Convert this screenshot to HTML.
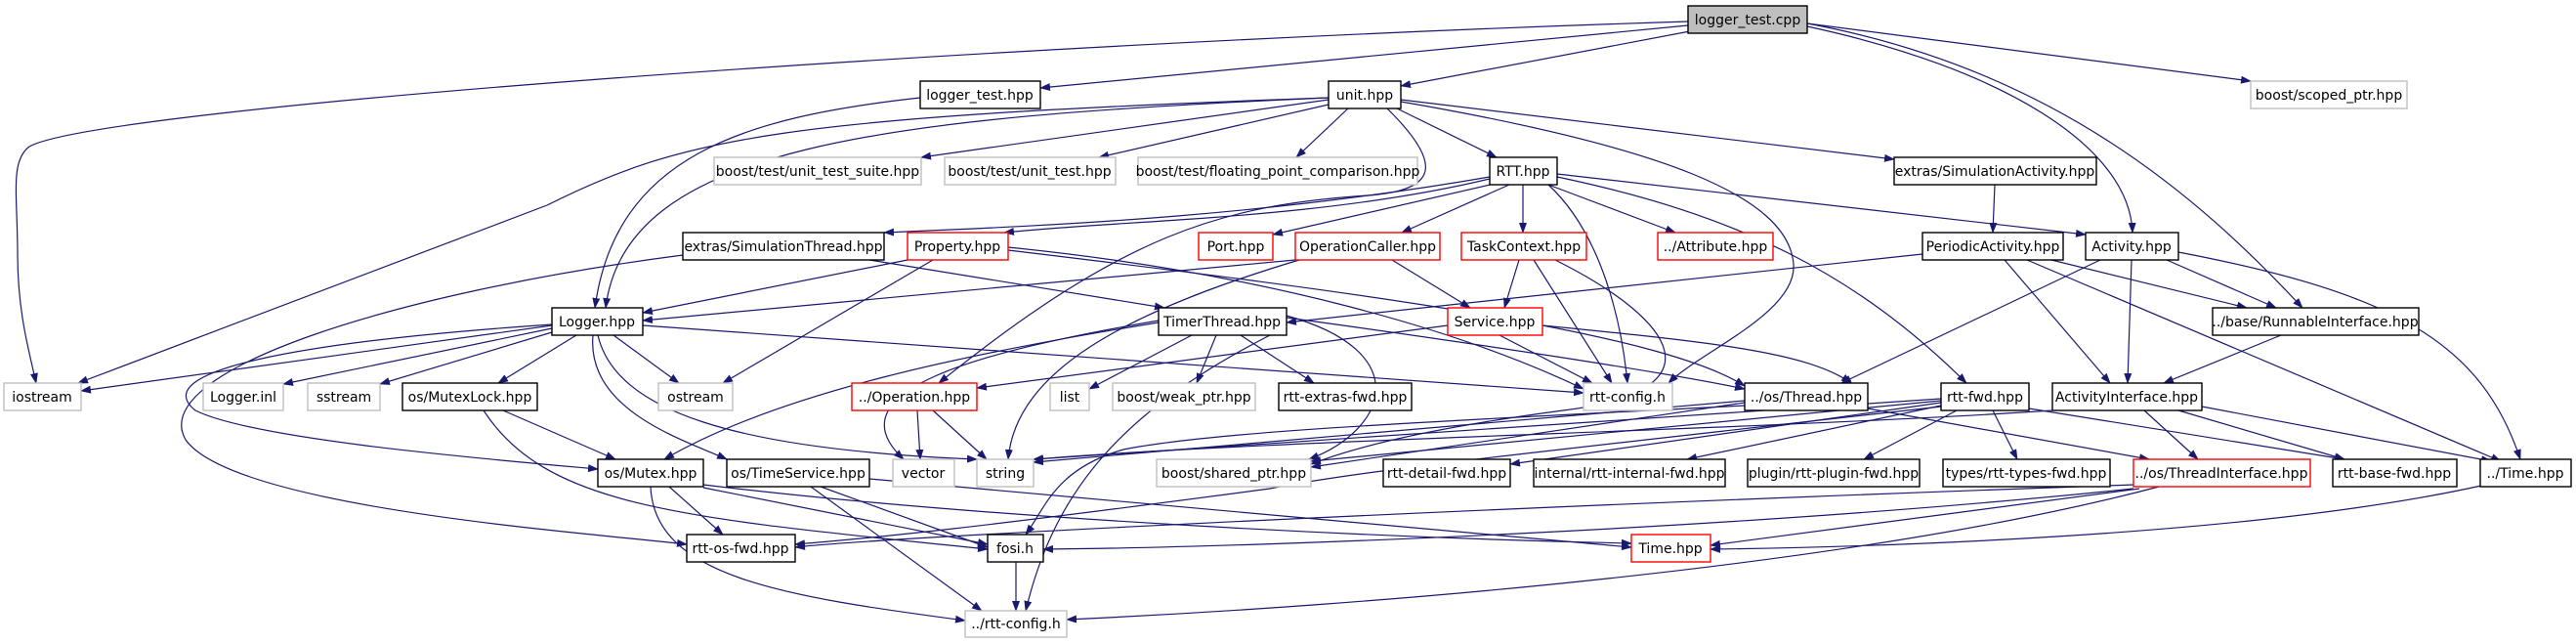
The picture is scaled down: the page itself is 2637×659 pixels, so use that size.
<!DOCTYPE html>
<html><head><meta charset="utf-8"><style>
html,body{margin:0;padding:0;background:#fff;}
svg{display:block;}
text{font-family:"DejaVu Sans","Liberation Sans",sans-serif;font-size:14px;fill:#000;}
</style></head><body>
<svg width="2637" height="659" viewBox="0 0 2637 659" xmlns="http://www.w3.org/2000/svg">
<defs><marker id="a" markerWidth="11" markerHeight="8" refX="10" refY="4" orient="auto" markerUnits="userSpaceOnUse"><path d="M0,0 L11,4 L0,8 z" fill="#191970"/></marker></defs>
<g fill="none" stroke="#191970" stroke-width="1.2" marker-end="url(#a)">
<path d="M1728,22 C1000,45 100,110 30,150 C10,165 18,200 18,260 C18,320 30,360 37,392"/>
<path d="M1728,26 L1065,90"/>
<path d="M1730,32 L1434,88"/>
<path d="M1850,24 L2304,83"/>
<path d="M1850,27 C2050,70 2180,150 2183,238"/>
<path d="M1850,24 C2100,70 2250,200 2357,315"/>
<path d="M942,100 C760,120 630,160 609,315"/>
<path d="M1360,100 C900,120 640,150 620,315"/>
<path d="M1360,100 C800,120 700,140 560,210 L80,392"/>
<path d="M1360,102 L943,161"/>
<path d="M1360,107 L1125,161"/>
<path d="M1380,111 L1327,161"/>
<path d="M1430,111 L1532,161"/>
<path d="M1434,102 L1939,163"/>
<path d="M1420,111 C1480,170 1470,195 1400,200 C1250,210 1150,240 961,392"/>
<path d="M1434,104 C1700,150 1830,200 1836,270 C1840,320 1740,360 1708,392"/>
<path d="M1525,181 C1300,220 1100,230 905,238"/>
<path d="M1525,183 C1350,225 1150,225 1028,238"/>
<path d="M1530,188 L1303,240"/>
<path d="M1545,189 L1435,238"/>
<path d="M1559,189 L1559,238"/>
<path d="M1585,189 L1715,238"/>
<path d="M1594,178 L2135,240"/>
<path d="M1585,189 C1640,240 1660,330 1666,392"/>
<path d="M1594,181 C1780,220 1900,280 2013,392"/>
<path d="M2042,189 L2040,238"/>
<path d="M699,261 C400,300 150,380 190,450 C240,520 600,545 703,557"/>
<path d="M890,266 L1192,315"/>
<path d="M929,266 L658,320"/>
<path d="M1326,266 L658,328"/>
<path d="M955,266 L740,392"/>
<path d="M1032,253 C1300,280 1500,340 1621,398"/>
<path d="M1032,256 C1400,300 1700,340 1786,395"/>
<path d="M1425,266 L1505,315"/>
<path d="M1330,266 C1150,320 1040,380 1032,470"/>
<path d="M1555,266 L1540,315"/>
<path d="M1570,266 L1650,392"/>
<path d="M1592,266 C1720,330 1760,400 1600,420 C1450,440 1380,460 1342,475"/>
<path d="M1482,333 L1000,397"/>
<path d="M1535,343 L1630,392"/>
<path d="M1579,333 C1750,350 1850,360 1895,392"/>
<path d="M1220,343 L1115,398"/>
<path d="M1245,343 L1225,392"/>
<path d="M1270,343 L1345,392"/>
<path d="M1186,330 C1000,360 800,400 680,470"/>
<path d="M1186,328 C1000,360 850,400 925,470"/>
<path d="M1317,325 C1500,350 1700,380 1786,398"/>
<path d="M1317,323 C1450,360 1420,440 1340,470"/>
<path d="M1300,343 C1150,420 1080,500 1050,625"/>
<path d="M565,333 L83,400"/>
<path d="M565,336 L290,393"/>
<path d="M565,340 L389,393"/>
<path d="M590,343 L510,392"/>
<path d="M628,343 L695,392"/>
<path d="M565,332 C300,350 150,380 200,420 C260,450 500,470 612,480"/>
<path d="M607,343 C600,420 700,450 744,470"/>
<path d="M612,343 C630,420 750,460 1000,470"/>
<path d="M658,333 L1621,402"/>
<path d="M515,420 L630,470"/>
<path d="M495,420 C560,520 700,530 1011,562"/>
<path d="M685,498 L740,547"/>
<path d="M720,499 L1011,557"/>
<path d="M666,498 C670,590 800,610 988,635"/>
<path d="M720,496 C1000,530 1400,550 1670,556"/>
<path d="M840,498 L1011,560"/>
<path d="M830,498 L1005,625"/>
<path d="M890,490 L1670,560"/>
<path d="M1786,410 L1058,473"/>
<path d="M1786,412 L1342,478"/>
<path d="M1912,418 L2200,470"/>
<path d="M1786,415 C1500,430 1250,440 1150,460 C1080,480 1070,520 1050,547"/>
<path d="M2003,420 L1908,470"/>
<path d="M2040,420 L2065,470"/>
<path d="M2077,418 L2400,470"/>
<path d="M1987,412 L1546,475"/>
<path d="M1987,415 L1727,470"/>
<path d="M1987,410 L1342,472"/>
<path d="M1987,408 L1058,470"/>
<path d="M1987,416 C1600,460 1400,480 1300,500 C1000,540 900,550 814,557"/>
<path d="M2195,420 L2250,470"/>
<path d="M2230,420 L2400,470"/>
<path d="M2254,416 L2550,472"/>
<path d="M2101,420 C1800,440 1300,450 1058,470"/>
<path d="M1968,260 L1317,330"/>
<path d="M2100,266 L2300,315"/>
<path d="M2052,266 L2160,392"/>
<path d="M2075,266 L2560,472"/>
<path d="M2218,266 L2330,315"/>
<path d="M2182,266 L2178,392"/>
<path d="M2150,266 L1885,392"/>
<path d="M2230,258 C2450,300 2540,350 2580,470"/>
<path d="M2335,343 L2215,392"/>
<path d="M939,420 L942,470"/>
<path d="M955,420 L1010,470"/>
<path d="M2184,500 C1800,540 1300,560 1068,562"/>
<path d="M2190,500 L1751,558"/>
<path d="M2210,498 C1900,580 1400,620 1092,634"/>
<path d="M2184,496 C1500,520 900,550 814,560"/>
<path d="M2540,497 C2300,550 1900,560 1751,562"/>
<path d="M1040,575 L1040,625"/>
</g>
<g stroke-width="1.4" fill="#fff">
<rect x="1728" y="6" width="122" height="28" fill="#bfbfbf" stroke="#000"/>
<rect x="942" y="83" width="123" height="28" stroke="#000"/>
<rect x="1360" y="83" width="74" height="28" stroke="#000"/>
<rect x="2304" y="83" width="160" height="28" stroke="#bfbfbf"/>
<rect x="731" y="161" width="212" height="28" stroke="#bfbfbf"/>
<rect x="967" y="161" width="175" height="28" stroke="#bfbfbf"/>
<rect x="1165" y="161" width="286" height="28" stroke="#bfbfbf"/>
<rect x="1525" y="161" width="69" height="28" stroke="#000"/>
<rect x="1939" y="161" width="207" height="28" stroke="#000"/>
<rect x="699" y="238" width="206" height="28" stroke="#000"/>
<rect x="929" y="238" width="103" height="28" stroke="#f00"/>
<rect x="1227" y="238" width="76" height="28" stroke="#f00"/>
<rect x="1326" y="238" width="148" height="28" stroke="#f00"/>
<rect x="1496" y="238" width="128" height="28" stroke="#f00"/>
<rect x="1697" y="238" width="118" height="28" stroke="#f00"/>
<rect x="1968" y="238" width="144" height="28" stroke="#000"/>
<rect x="2135" y="238" width="95" height="28" stroke="#000"/>
<rect x="565" y="315" width="93" height="28" stroke="#000"/>
<rect x="1186" y="315" width="131" height="28" stroke="#000"/>
<rect x="1482" y="315" width="97" height="28" stroke="#f00"/>
<rect x="2265" y="315" width="211" height="28" stroke="#000"/>
<rect x="4" y="392" width="79" height="28" stroke="#bfbfbf"/>
<rect x="208" y="392" width="82" height="28" stroke="#bfbfbf"/>
<rect x="315" y="392" width="74" height="28" stroke="#bfbfbf"/>
<rect x="412" y="392" width="138" height="28" stroke="#000"/>
<rect x="674" y="392" width="76" height="28" stroke="#bfbfbf"/>
<rect x="872" y="392" width="128" height="28" stroke="#f00"/>
<rect x="1075" y="392" width="40" height="28" stroke="#bfbfbf"/>
<rect x="1139" y="392" width="146" height="28" stroke="#bfbfbf"/>
<rect x="1309" y="392" width="136" height="28" stroke="#000"/>
<rect x="1621" y="392" width="91" height="28" stroke="#bfbfbf"/>
<rect x="1786" y="392" width="126" height="28" stroke="#000"/>
<rect x="1987" y="392" width="90" height="28" stroke="#000"/>
<rect x="2101" y="392" width="153" height="28" stroke="#000"/>
<rect x="612" y="470" width="108" height="28" stroke="#000"/>
<rect x="744" y="470" width="146" height="28" stroke="#000"/>
<rect x="914" y="470" width="63" height="28" stroke="#bfbfbf"/>
<rect x="1000" y="470" width="58" height="28" stroke="#bfbfbf"/>
<rect x="1184" y="470" width="158" height="28" stroke="#bfbfbf"/>
<rect x="1416" y="470" width="130" height="28" stroke="#000"/>
<rect x="1570" y="470" width="196" height="28" stroke="#000"/>
<rect x="1789" y="470" width="176" height="28" stroke="#000"/>
<rect x="1989" y="470" width="171" height="28" stroke="#000"/>
<rect x="2184" y="470" width="181" height="28" stroke="#f00"/>
<rect x="2388" y="470" width="127" height="28" stroke="#000"/>
<rect x="2539" y="470" width="93" height="28" stroke="#000"/>
<rect x="703" y="547" width="111" height="28" stroke="#000"/>
<rect x="1011" y="547" width="57" height="28" stroke="#000"/>
<rect x="1670" y="547" width="81" height="28" stroke="#f00"/>
<rect x="988" y="625" width="104" height="27" stroke="#bfbfbf"/>
</g>
<g text-anchor="middle">
<text x="1789" y="25">logger_test.cpp</text>
<text x="1003" y="102">logger_test.hpp</text>
<text x="1397" y="102">unit.hpp</text>
<text x="2384" y="102">boost/scoped_ptr.hpp</text>
<text x="837" y="180">boost/test/unit_test_suite.hpp</text>
<text x="1054" y="180">boost/test/unit_test.hpp</text>
<text x="1308" y="180">boost/test/floating_point_comparison.hpp</text>
<text x="1559" y="180">RTT.hpp</text>
<text x="2042" y="180">extras/SimulationActivity.hpp</text>
<text x="802" y="257">extras/SimulationThread.hpp</text>
<text x="980" y="257">Property.hpp</text>
<text x="1265" y="257">Port.hpp</text>
<text x="1400" y="257">OperationCaller.hpp</text>
<text x="1560" y="257">TaskContext.hpp</text>
<text x="1756" y="257">../Attribute.hpp</text>
<text x="2040" y="257">PeriodicActivity.hpp</text>
<text x="2182" y="257">Activity.hpp</text>
<text x="611" y="334">Logger.hpp</text>
<text x="1251" y="334">TimerThread.hpp</text>
<text x="1530" y="334">Service.hpp</text>
<text x="2370" y="334">../base/RunnableInterface.hpp</text>
<text x="43" y="411">iostream</text>
<text x="249" y="411">Logger.inl</text>
<text x="352" y="411">sstream</text>
<text x="481" y="411">os/MutexLock.hpp</text>
<text x="712" y="411">ostream</text>
<text x="936" y="411">../Operation.hpp</text>
<text x="1095" y="411">list</text>
<text x="1212" y="411">boost/weak_ptr.hpp</text>
<text x="1377" y="411">rtt-extras-fwd.hpp</text>
<text x="1666" y="411">rtt-config.h</text>
<text x="1849" y="411">../os/Thread.hpp</text>
<text x="2032" y="411">rtt-fwd.hpp</text>
<text x="2177" y="411">ActivityInterface.hpp</text>
<text x="666" y="489">os/Mutex.hpp</text>
<text x="817" y="489">os/TimeService.hpp</text>
<text x="945" y="489">vector</text>
<text x="1029" y="489">string</text>
<text x="1263" y="489">boost/shared_ptr.hpp</text>
<text x="1481" y="489">rtt-detail-fwd.hpp</text>
<text x="1668" y="489">internal/rtt-internal-fwd.hpp</text>
<text x="1877" y="489">plugin/rtt-plugin-fwd.hpp</text>
<text x="2074" y="489">types/rtt-types-fwd.hpp</text>
<text x="2274" y="489">../os/ThreadInterface.hpp</text>
<text x="2451" y="489">rtt-base-fwd.hpp</text>
<text x="2585" y="489">../Time.hpp</text>
<text x="758" y="566">rtt-os-fwd.hpp</text>
<text x="1039" y="566">fosi.h</text>
<text x="1710" y="566">Time.hpp</text>
<text x="1040" y="643">../rtt-config.h</text>
</g>
</svg>
</body></html>
